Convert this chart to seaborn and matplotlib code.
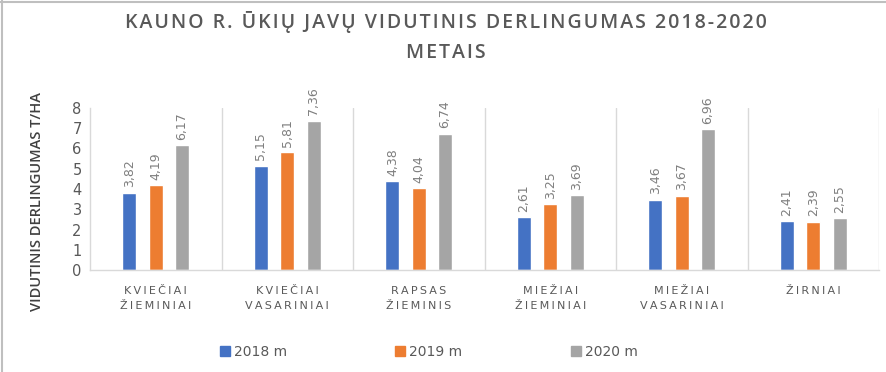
import matplotlib
matplotlib.use("Agg")
import matplotlib.pyplot as plt
import pandas as pd
import seaborn as sns
from matplotlib.lines import Line2D

crops = ["KVIEČIAI\nŽIEMINIAI", "KVIEČIAI\nVASARINIAI", "RAPSAS\nŽIEMINIS",
         "MIEŽIAI\nŽIEMINIAI", "MIEŽIAI\nVASARINIAI", "ŽIRNIAI"]
years = ["2018 m", "2019 m", "2020 m"]
y2018 = [3.82, 5.15, 4.38, 2.61, 3.46, 2.41]
y2019 = [4.19, 5.81, 4.04, 3.25, 3.67, 2.39]
y2020 = [6.17, 7.36, 6.74, 3.69, 6.96, 2.55]
colors = ["#4472C4", "#ED7D31", "#A5A5A5"]

rows = []
for yr, vals in zip(years, [y2018, y2019, y2020]):
    for c, v in zip(crops, vals):
        rows.append({"crop": c, "year": yr, "value": v})
df = pd.DataFrame(rows)

sns.set_theme(style="white")
plt.rcParams["font.family"] = ["DejaVu Sans"]

fig = plt.figure(figsize=(8.86, 3.72), dpi=100)
ax = fig.add_axes([90 / 886, 1 - 270 / 372, (879 - 90) / 886, 162 / 372])

sns.barplot(data=df, x="crop", y="value", hue="year", palette=colors,
            width=0.6, gap=0.47, order=crops, hue_order=years,
            legend=False, ax=ax, saturation=1)

txt = "#595959"
for cont in ax.containers:
    for bar in cont:
        h = bar.get_height()
        ax.annotate(f"{h:.2f}".replace(".", ","),
                    (bar.get_x() + bar.get_width() / 2, h),
                    xytext=(0, 4), textcoords="offset points",
                    rotation=90, ha="center", va="bottom",
                    fontsize=9, color="#7f7f7f")

ax.set_ylim(0, 8)
ax.set_xlim(-0.5, 5.5)
ax.set_yticks(range(9))
ax.tick_params(axis="y", labelsize=10.5, colors=txt, length=4, width=0.8,
               color="#d9d9d9", pad=2)
for lbl in ax.get_yticklabels():
    lbl.set_color(txt)

# category boundaries
for b in [0.5, 1.5, 2.5, 3.5, 4.5, 5.5]:
    ax.axvline(b, color="#d9d9d9", lw=1, zorder=0)
ax.set_xticks([-0.5, 0.5, 1.5, 2.5, 3.5, 4.5, 5.5], minor=False)
ax.set_xticklabels([])
ax.tick_params(axis="x", length=4, color="#d9d9d9", width=0.8)


def spaced(s, sep="\u2009"):
    return "\n".join(sep.join(line) for line in s.split("\n"))


for i, c in enumerate(crops):
    ax.text(i, -0.8, spaced(c), ha="center", va="top", fontsize=8,
            color=txt, linespacing=1.6, transform=ax.transData)

for side in ["top", "right"]:
    ax.spines[side].set_visible(False)
for side in ["left", "bottom"]:
    ax.spines[side].set_color("#d9d9d9")
    ax.spines[side].set_linewidth(1)

ax.set_xlabel("")
ax.set_ylabel("VIDUTINIS DERLINGUMAS T/HA", fontsize=10.5, color="#404040",
              fontfamily="Open Sans", fontweight="semibold")
ax.yaxis.set_label_coords(-0.058, 0.42)

title_kw = dict(ha="center", va="center", fontsize=14, fontweight="semibold",
                color="#595959", fontfamily="Open Sans")
fig.text(0.503, 1 - 22 / 372,
         spaced("KAUNO R. ŪKIŲ JAVŲ VIDUTINIS DERLINGUMAS 2018-2020", "\u200a"),
         **title_kw)
fig.text(0.503, 1 - 53 / 372, spaced("METAIS", "\u200a"), **title_kw)

handles = [Line2D([], [], marker="s", ls="", color=c, markersize=7)
           for c in colors]
fig.legend(handles, years, loc="center", bbox_to_anchor=(0.482, 1 - 352 / 372),
           ncol=3, frameon=False, fontsize=10, columnspacing=7.55,
           handletextpad=0.05, labelcolor=txt, handlelength=1.2)

# screenshot frame
fig.add_artist(Line2D([0, 1], [1 - 2 / 372, 1 - 2 / 372], color="#bfbfbf",
                      lw=1.5, transform=fig.transFigure))
fig.add_artist(Line2D([2 / 886, 2 / 886], [0, 1], color="#bfbfbf",
                      lw=1.5, transform=fig.transFigure))

fig.savefig("out.png", dpi=100)
